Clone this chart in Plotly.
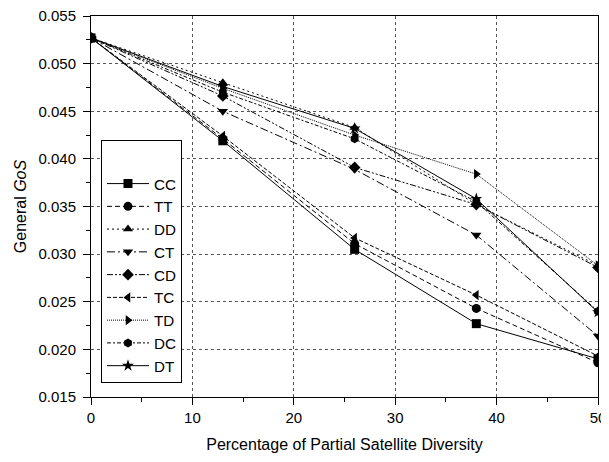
import plotly.graph_objects as go

X = [0, 13, 26, 38, 50]
CC = [0.0527, 0.0419, 0.0305, 0.0227, 0.0190]
TT = [0.0527, 0.0421, 0.0311, 0.0243, 0.0186]
DD = [0.0527, 0.0480, 0.0433, 0.0352, 0.0288]
CT = [0.0527, 0.0450, 0.0389, 0.0320, 0.0214]
CD = [0.0527, 0.0466, 0.0391, 0.0352, 0.0286]
TC = [0.0527, 0.0424, 0.0317, 0.0257, 0.0193]
TD = [0.0527, 0.0474, 0.0425, 0.0384, 0.0288]
DC = [0.0527, 0.0470, 0.0421, 0.0355, 0.0240]
DT = [0.0527, 0.0476, 0.0432, 0.0358, 0.0239]

series = [
    ("CC", CC, "square", "solid"),
    ("TT", TT, "circle", "5px,3px"),
    ("DD", DD, "triangle-up", "2px,3px"),
    ("CT", CT, "triangle-down", "8px,3px,2px,3px"),
    ("CD", CD, "diamond", "6px,2px,2px,2px,2px,2px"),
    ("TC", TC, "triangle-left", "4px,2px"),
    ("TD", TD, "triangle-right", "1px,1px"),
    ("DC", DC, "hexagon", "4px,2px,2px,2px"),
    ("DT", DT, "star", "solid"),
]

fig = go.Figure()
for name, ys, sym, dash in series:
    fig.add_trace(go.Scatter(
        x=X, y=ys, name=name, mode="lines+markers",
        line=dict(color="black", width=1, dash=dash),
        marker=dict(symbol=sym, size=9, color="black"),
    ))

font = "Liberation Sans, Arial, sans-serif"
fig.update_layout(
    width=609, height=462,
    margin=dict(l=83, r=19, t=8, b=73, autoexpand=False),
    paper_bgcolor="white", plot_bgcolor="white",
    font=dict(family=font, size=15, color="black"),
    showlegend=True,
    legend=dict(
        x=0.0197, y=0.674, xanchor="left", yanchor="top",
        bgcolor="white", bordercolor="black", borderwidth=1,
        font=dict(size=15.2), tracegroupgap=0, itemwidth=42,
        title=dict(text=" ", font=dict(size=20)),
    ),
    xaxis=dict(
        range=[0, 50], dtick=10, tick0=0, automargin=False,
        showline=True, linecolor="black", linewidth=1, mirror=True,
        ticks="outside", ticklen=7, tickcolor="black", ticklabeloverflow="allow",
        minor=dict(dtick=5, ticks="outside", ticklen=4, tickcolor="black", showgrid=False),
        showgrid=True, gridcolor="#555", griddash="dot", gridwidth=1,
        zeroline=False,
        title=dict(text="Percentage of Partial Satellite Diversity", font=dict(size=16), standoff=13),
    ),
    yaxis=dict(
        range=[0.015, 0.055], dtick=0.005, tick0=0.015, tickformat=".3f", automargin=False,
        showline=True, linecolor="black", linewidth=1, mirror=True,
        ticks="outside", ticklen=7, tickcolor="black", ticklabelstandoff=4,
        ticklabeloverflow="allow",
        minor=dict(dtick=0.0025, ticks="outside", ticklen=4, tickcolor="black", showgrid=False),
        showgrid=True, gridcolor="#555", griddash="dot", gridwidth=1,
        zeroline=False,
        title=dict(text="General <i>GoS</i>", font=dict(size=16), standoff=7),
    ),
)

fig.write_html("out.html")
